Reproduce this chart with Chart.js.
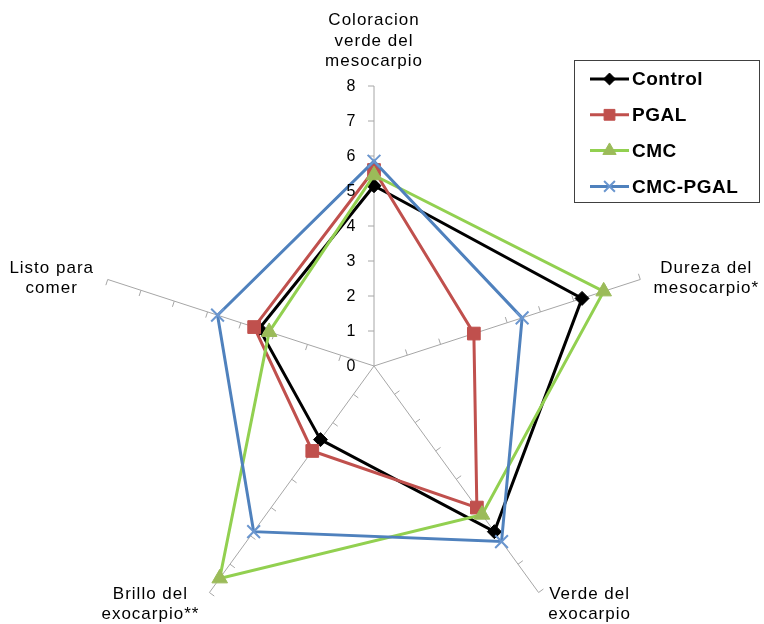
<!DOCTYPE html>
<html>
<head>
<meta charset="utf-8">
<script src="https://cdn.jsdelivr.net/npm/chart.js@4/dist/chart.umd.min.js"></script>
<style>
  html, body { margin: 0; padding: 0; background: #fff; overflow: hidden; }
  canvas { display: block; }
</style>
</head>
<body>
<canvas id="radar" width="764" height="700"></canvas>
<script>
// Attributes on each spoke, clockwise from the top
const labels = [
    ["Coloracion", "verde del", "mesocarpio"],
    ["Dureza del", "mesocarpio*"],
    ["Verde del", "exocarpio"],
    ["Brillo del", "exocarpio**"],
    ["Listo para", "comer"]
];
const tickValues = [0, 1, 2, 3, 4, 5, 6, 7, 8];

const control  = [5.15, 6.25, 5.85, 2.6, 3.45];
const pgal     = [5.6, 3.0, 5.0, 3.0, 3.6];
const cmc      = [5.45, 6.9, 5.25, 7.5, 3.15];
const cmcPgal  = [5.85, 4.45, 6.2, 5.85, 4.7];

// where each multi-line label block sits relative to the end of its spoke
const labelOffsets = [[0, -45], [66, -1], [51, 12], [-59, 12], [-56, -1]];

const GRID = '#a6a6a6';
const FONT = '"Liberation Sans", Arial, sans-serif';

const series = [
    { label: 'Control',  data: control, color: '#000000', marker: '#000000', style: 'rectRot', r: 7, bw: 1, order: 3 },
    { label: 'PGAL',     data: pgal,    color: '#C0504D', marker: '#C0504D', style: 'rect', r: 9, bw: 1, order: 2 },
    { label: 'CMC',      data: cmc,     color: '#92D050', marker: '#9BBB59', style: 'triangle', r: 9, bw: 1, order: 1 },
    { label: 'CMC-PGAL', data: cmcPgal, color: '#4F81BD', marker: '#6A96CF', style: 'crossRot', r: 9, bw: 2, order: 0 }
];

/* small tick marks on every spoke, one side only */
const spokeTicks = {
    id: 'spokeTicks',
    beforeDatasetsDraw(chart) {
        const s = chart.scales.r, ctx = chart.ctx;
        ctx.save();
        ctx.strokeStyle = GRID;
        ctx.lineWidth = 1;
        labels.forEach((_, i) => {
            tickValues.slice(1).forEach(v => {
                const p = s.getPointPositionForValue(i, v);
                const dx = Math.cos(p.angle), dy = Math.sin(p.angle);
                ctx.beginPath();
                ctx.moveTo(p.x, p.y);
                ctx.lineTo(p.x + dy * 6, p.y - dx * 6);
                ctx.stroke();
            });
        });
        ctx.restore();
    }
};

/* value labels beside the top spoke and the attribute names */
const axisText = {
    id: 'axisText',
    afterDraw(chart) {
        const s = chart.scales.r, ctx = chart.ctx;
        ctx.save();
        ctx.fillStyle = '#000';
        ctx.textAlign = 'center';
        ctx.textBaseline = 'middle';
        ctx.font = '16px ' + FONT;
        tickValues.forEach(v => {
            const p = s.getPointPositionForValue(0, v);
            ctx.fillText(String(v), p.x - 23, p.y + 1);
        });
        ctx.font = '17px ' + FONT;
        ctx.letterSpacing = '1px';
        labels.forEach((lines, i) => {
            const p = s.getPointPosition(i, s.drawingArea);
            const cx = p.x + labelOffsets[i][0];
            const cy = p.y + labelOffsets[i][1];
            const lh = 20.5;
            lines.forEach((t, k) => {
                ctx.fillText(t, cx, cy + (k - (lines.length - 1) / 2) * lh);
            });
        });
        ctx.restore();
    }
};

/* boxed legend in the top right corner */
const boxLegend = {
    id: 'boxLegend',
    afterDraw(chart) {
        const ctx = chart.ctx;
        ctx.save();
        ctx.fillStyle = '#fff';
        ctx.fillRect(574.5, 60.5, 185, 142);
        ctx.strokeStyle = '#404040';
        ctx.lineWidth = 1;
        ctx.strokeRect(574.5, 60.5, 185, 142);
        series.forEach((d, k) => {
            const y = 79 + k * 35.8;
            ctx.strokeStyle = d.color;
            ctx.lineWidth = 3;
            ctx.beginPath();
            ctx.moveTo(590, y);
            ctx.lineTo(629, y);
            ctx.stroke();
            ctx.fillStyle = d.marker;
            ctx.strokeStyle = d.marker;
            ctx.lineWidth = d.bw;
            Chart.helpers.drawPoint(ctx, { pointStyle: d.style, radius: d.r * 0.85, rotation: 0, borderWidth: d.bw }, 609.5, y);
            ctx.fillStyle = '#000';
            ctx.font = 'bold 19px ' + FONT;
            ctx.letterSpacing = '0.5px';
            ctx.textAlign = 'left';
            ctx.textBaseline = 'middle';
            ctx.fillText(d.label, 632, y + 1);
        });
        ctx.restore();
    }
};

new Chart(document.getElementById('radar'), {
    type: 'radar',
    data: {
        labels: labels,
        datasets: series.map(d => ({
            label: d.label,
            data: d.data,
            order: d.order,
            fill: false,
            borderColor: d.color,
            borderWidth: 3,
            backgroundColor: d.marker,
            pointStyle: d.style,
            pointRadius: d.r,
            pointBackgroundColor: d.marker,
            pointBorderColor: d.marker,
            pointBorderWidth: d.bw,
            tension: 0
        }))
    },
    options: {
        responsive: false,
        animation: false,
        layout: { padding: { left: 94, right: 110, top: 86, bottom: 54 } },
        plugins: { legend: { display: false }, tooltip: { enabled: false } },
        scales: {
            r: {
                min: 0,
                max: 8,
                ticks: { stepSize: 1, display: false },
                grid: { display: false },
                angleLines: { display: true, color: GRID, lineWidth: 1 },
                pointLabels: { display: false }
            }
        }
    },
    plugins: [spokeTicks, axisText, boxLegend]
});
</script>
</body>
</html>
